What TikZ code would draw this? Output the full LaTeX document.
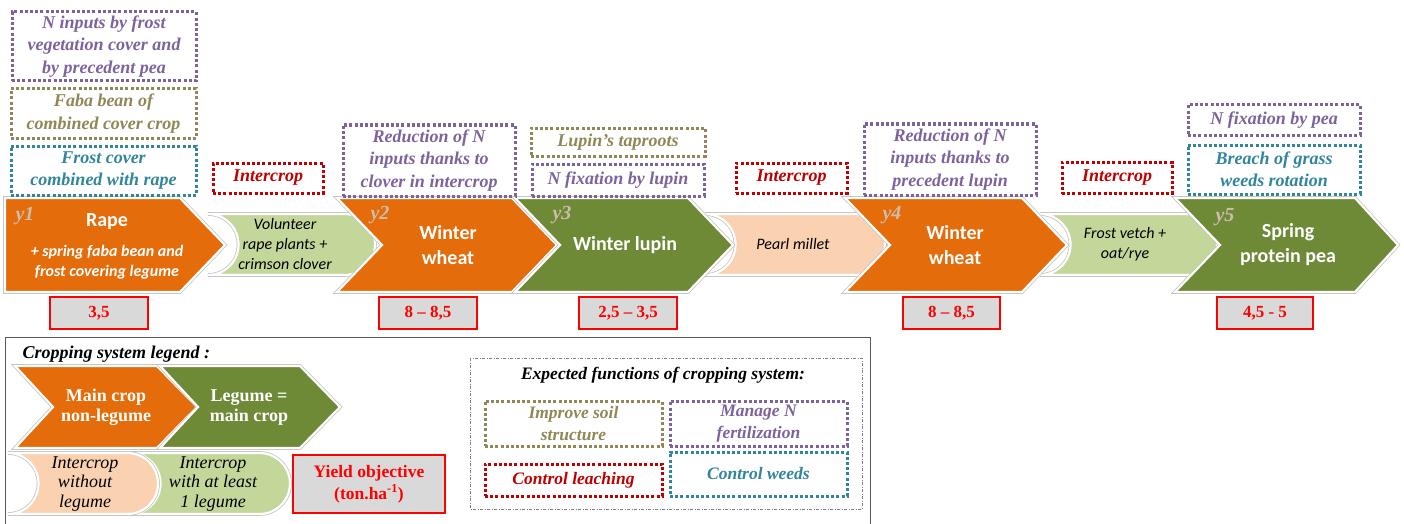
\documentclass[tikz,border=0pt]{standalone}
\usepackage{fontspec}
\setmainfont{Liberation Serif}
\newfontfamily\calib{Carlito}
\definecolor{corange}{HTML}{E46C0A}
\definecolor{cgreen}{HTML}{6F8A37}
\definecolor{clgreen}{HTML}{C4D79B}
\definecolor{cpeach}{HTML}{FAD2B2}
\definecolor{cpurple}{HTML}{7D639E}
\definecolor{colive}{HTML}{8F8755}
\definecolor{cteal}{HTML}{31859C}
\definecolor{cdred}{HTML}{C00000}
\definecolor{cylab}{HTML}{CDBDAA}
\definecolor{cgray}{HTML}{D9D9D9}
\tikzset{
 fbox/.style={draw=#1, text=#1, line width=3pt, dash pattern=on 3pt off 2.2pt, fill=white, align=center, inner sep=0pt, font=\fontsize{18}{22.5}\selectfont\bfseries\itshape},
 ebox/.style={fbox=#1, font=\fontsize{17.5}{22}\selectfont\bfseries\itshape},
 ybox/.style={draw=red, line width=2.8pt, fill=cgray, text=red, align=center, font=\fontsize{17}{21}\selectfont\bfseries, inner sep=0pt},
 shout/.style={draw=gray!50, line width=3.6pt},
 shin/.style={fill=#1, draw=white, line width=2.2pt},
 ctext/.style={text=white, align=center, font=\calib\fontsize{20}{25}\selectfont\bfseries},
 stext/.style={text=white, align=center, font=\calib\fontsize{16}{19.5}\selectfont\bfseries\itshape},
 itext/.style={text=black, align=center, font=\calib\fontsize{16}{20}\selectfont\itshape},
 ylab/.style={text=cylab, font=\fontsize{20}{20}\selectfont\bfseries\itshape},
 ltext/.style={text=white, align=center, font=\fontsize{18}{20}\selectfont\bfseries},
 litext/.style={text=black, align=center, font=\fontsize{18}{19.5}\selectfont\itshape},
}
\newcommand{\drawchev}[7]{%
  \draw[shout] (#1,#5) -- (#3,#5) -- (#4,{(#5+#6)/2}) -- (#3,#6) -- (#1,#6) -- (#2,{(#5+#6)/2}) -- cycle;
  \draw[shin=#7] (#1,#5) -- (#3,#5) -- (#4,{(#5+#6)/2}) -- (#3,#6) -- (#1,#6) -- (#2,{(#5+#6)/2}) -- cycle;}
\newcommand{\drawic}[5]{%
  \pgfmathsetmacro{\icr}{(#4-#3)/2}%
  \draw[shout] (#1,#3) -- ({#2-\icr},#3) arc[start angle=90,end angle=-90,radius=\icr pt] -- (#1,#4) arc[start angle=-90,end angle=90,radius=\icr pt] -- cycle;
  \draw[shin=#5] (#1,#3) -- ({#2-\icr},#3) arc[start angle=90,end angle=-90,radius=\icr pt] -- (#1,#4) arc[start angle=-90,end angle=90,radius=\icr pt] -- cycle;}
\begin{document}
\begin{tikzpicture}[x=1pt,y=-1pt]
\useasboundingbox[fill=white] (0,0) rectangle (1404,524);
% ---- intercrops (main row)
\drawic{208}{375}{214}{275}{clgreen}
\drawic{705}{885}{214}{275}{cpeach}
\drawic{1040}{1217}{214}{275}{clgreen}
% ---- chevrons (main row)
\drawchev{5}{5}{180}{225}{198}{292}{corange}
\drawchev{337}{382}{512}{557}{198}{292}{corange}
\drawchev{515}{560}{688}{733}{198}{292}{cgreen}
\drawchev{845}{890}{1022}{1067}{198}{292}{corange}
\drawchev{1175}{1220}{1355}{1398}{198}{292}{cgreen}
% ---- chevron texts
\node[ctext] (rape) at (107,222) {Rape};
\node[stext] (rapesub) at (107,262) {+ spring faba bean and\\frost covering legume};
\node[ctext] (wheat1) at (448,245) {Winter\\wheat};
\node[ctext] (lupin) at (625,245) {Winter lupin};
\node[ctext] (wheat2) at (955,245) {Winter\\wheat};
\node[ctext] (pea) at (1288,245) {Spring\\protein pea};
\node[itext] (vol) at (285,244) {Volunteer\\rape plants +\\crimson clover};
\node[itext] (millet) at (793,244) {Pearl millet};
\node[itext] (vetch) at (1125,244) {Frost vetch +\\oat/rye};
\node[ylab] (yl1) at (25,216) {y1};
\node[ylab] (yl2) at (380,215) {y2};
\node[ylab] (yl3) at (562,215) {y3};
\node[ylab] (yl4) at (892,215) {y4};
\node[ylab] (yl5) at (1225,217) {y5};
% ---- top function boxes
\node[fbox=cpurple, minimum width=184, minimum height=69] (p1) at (104,46.5) {N inputs by frost\\vegetation cover and\\by precedent pea};
\node[fbox=colive, minimum width=185, minimum height=49] (o1) at (103.5,113.5) {Faba bean of\\combined cover crop};
\node[fbox=cteal, minimum width=185, minimum height=49] (t1) at (103.5,170.5) {Frost cover\\combined with rape};
\node[fbox=cdred, minimum width=110, minimum height=30] (r1) at (268,178) {Intercrop};
\node[fbox=cpurple, minimum width=172, minimum height=71] (p2) at (429,160.5) {Reduction of N\\inputs thanks to\\clover in intercrop};
\node[fbox=colive, minimum width=174, minimum height=28] (o2) at (618,142) {Lupin’s taproots};
\node[fbox=cpurple, minimum width=172, minimum height=32] (p3) at (618,180) {N fixation by lupin};
\node[fbox=cdred, minimum width=111, minimum height=30] (r2) at (791.5,178) {Intercrop};
\node[fbox=cpurple, minimum width=172, minimum height=71] (p4) at (950,159.5) {Reduction of N\\inputs thanks to\\precedent lupin};
\node[fbox=cdred, minimum width=110, minimum height=31] (r3) at (1117,178) {Intercrop};
\node[fbox=cpurple, minimum width=172, minimum height=30] (p5) at (1274,120) {N fixation by pea};
\node[fbox=cteal, minimum width=172, minimum height=49] (t2) at (1274,169.5) {Breach of grass\\weeds rotation};
% ---- yields
\node[ybox, minimum width=98, minimum height=32] (yv1) at (99,313) {3,5};
\node[ybox, minimum width=98, minimum height=32] (yv2) at (428,313) {8 – 8,5};
\node[ybox, minimum width=98, minimum height=32] (yv3) at (628,313) {2,5 – 3,5};
\node[ybox, minimum width=97, minimum height=32] (yv4) at (951.5,313) {8 – 8,5};
\node[ybox, minimum width=96, minimum height=32] (yv5) at (1265,313) {4,5 - 5};
% ---- legend
\draw[black!65, line width=1pt] (5,337) rectangle (870,540);
\node[anchor=west, font=\fontsize{18}{20}\selectfont\bfseries\itshape] (legtitle) at (19,354) {Cropping system legend :};
\drawchev{15}{53}{157}{197}{366}{448}{corange}
\drawchev{160}{198}{300}{340}{366}{448}{cgreen}
\node[ltext] (lmain) at (106,407.5) {Main crop\\non-legume};
\node[ltext] (lleg) at (249,407.5) {Legume =\\main crop};
\drawic{130}{290}{453}{514}{clgreen}
\drawic{8}{158}{453}{514}{cpeach}
\node[litext] (lic1) at (85,484) {Intercrop\\without\\legume};
\node[litext] (lic2) at (213,484) {Intercrop\\with at least\\1 legume};
\node[ybox, minimum width=152, minimum height=58, font=\fontsize{17.5}{22}\selectfont\bfseries] (lyield) at (369,484) {Yield objective\\(ton.ha\textsuperscript{-1})};
% ---- expected functions
\draw[gray, line width=0.8pt, dash pattern=on 3pt off 1.5pt on 1pt off 1.5pt] (470,358) rectangle (862,509);
\node[font=\fontsize{17.5}{20}\selectfont\bfseries\itshape] (etitle) at (663,375) {Expected functions of cropping system:};
\node[ebox=colive, minimum width=177, minimum height=45] (e1) at (573.5,423.5) {Improve soil\\structure};
\node[ebox=cpurple, minimum width=177, minimum height=45] (e2) at (758.5,423.5) {Manage N\\fertilization};
\node[ebox=cdred, minimum width=177, minimum height=32] (e3) at (573.5,480) {Control leaching};
\node[ebox=cteal, minimum width=177, minimum height=44] (e4) at (758.5,474) {Control weeds};
\end{tikzpicture}
\end{document}
